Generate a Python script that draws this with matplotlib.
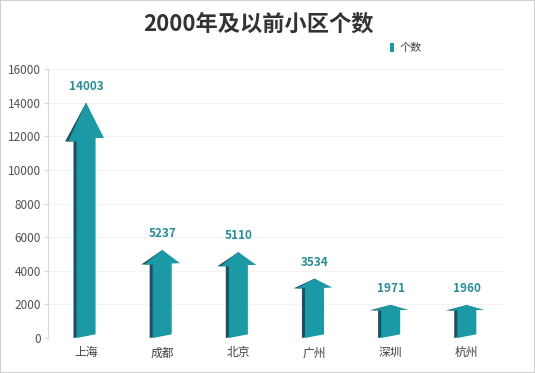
import matplotlib.pyplot as plt
import numpy as np
from matplotlib.patches import Polygon, Rectangle

plt.rcParams['font.family'] = ['Noto Sans CJK SC', 'DejaVu Sans']

# data
cities = ['上海', '成都', '北京', '广州', '深圳', '杭州']
counts = [14003, 5237, 5110, 3534, 1971, 1960]
yticks = [0, 2000, 4000, 6000, 8000, 10000, 12000, 14000, 16000]

teal = '#1b9aa6'
dark = '#1d4e63'
label_c = '#2a8c96'

fig = plt.figure(figsize=(5.35, 3.73), dpi=100)
ax = fig.add_axes([0.0897, 0.0938, 0.854, 0.721])

sw, hw = 0.125, 0.235  # shaft / head half-widths in category units
for i, v in enumerate(counts):
    hl = 0.165 * v  # left head corner drop
    hr = 0.15 * v   # right head corner drop (slight perspective)
    shape = [(i - sw, 0), (i + sw, 220), (i + sw, v - hr), (i + hw, v - hr),
             (i, v), (i - hw, v - hl), (i - sw, v - hl)]
    # darker side face: same outline pushed left, sharing the tip
    side = [(x - 0.04, y) if k != 4 else (x, y) for k, (x, y) in enumerate(shape)]
    ax.add_patch(Polygon(side, closed=True, fc=dark, ec='none', zorder=3))
    ax.add_patch(Polygon(shape, closed=True, fc=teal, ec='none', zorder=4))
    ax.annotate(str(v), (i, v), xytext=(0, 7), textcoords='offset points',
                ha='center', va='bottom', fontsize=8.5, fontweight='bold',
                color=label_c, zorder=5)

ax.set_xlim(-0.5, 5.5)
ax.set_ylim(0, 16000)
ax.set_xticks(range(len(cities)))
ax.set_xticklabels(cities, fontsize=8.5, color='#404040')
ax.set_yticks(yticks)
ax.set_yticklabels([str(t) for t in yticks], fontsize=8.5, color='#505050')
ax.tick_params(axis='x', length=0, pad=6)
ax.tick_params(axis='y', length=3, color='#d9d9d9', pad=2)
ax.grid(axis='y', color='#f3f3f3', lw=0.8, zorder=0)
ax.set_axisbelow(True)
for s in ['top', 'right', 'bottom']:
    ax.spines[s].set_visible(False)
ax.spines['left'].set_color('#d9d9d9')

fig.text(0.483, 0.935, '2000年及以前小区个数', ha='center', va='center',
         fontsize=16, fontweight='bold', color='#333333')

handle = Rectangle((0, 0), 1, 1, fc=teal, ec='none')
ax.legend([handle], ['个数'], loc='center left', bbox_to_anchor=(0.71, 0.872),
          bbox_transform=fig.transFigure, frameon=False, fontsize=8,
          handlelength=0.35, handleheight=0.9, handletextpad=0.5,
          labelcolor='#404040')

fig.patches.append(Rectangle((0, 0), 1, 1, transform=fig.transFigure,
                             fill=False, ec='#d0d0d0', lw=1.5))
fig.savefig('out.png', dpi=100)
